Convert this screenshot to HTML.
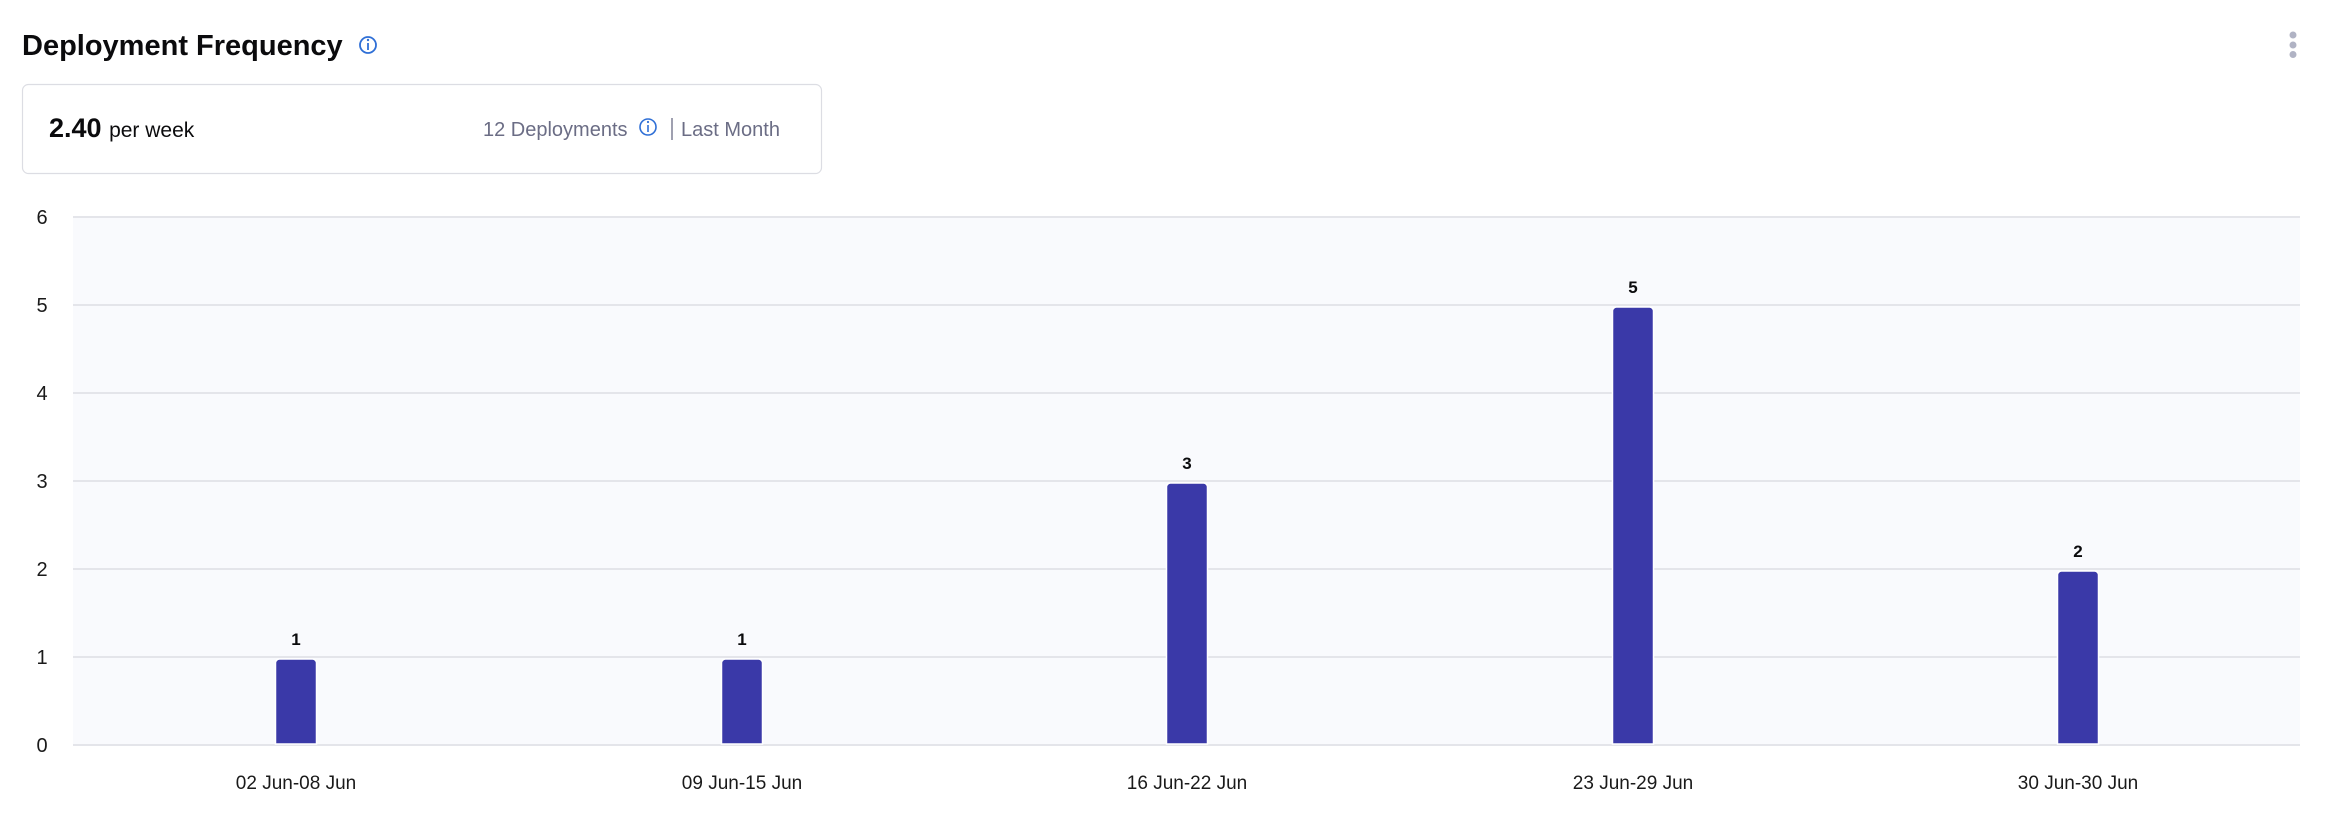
<!DOCTYPE html>
<html><head><meta charset="utf-8"><style>
html,body{margin:0;padding:0;background:#fff;width:2342px;height:832px;overflow:hidden;font-family:"Liberation Sans",Arial,sans-serif;}
</style></head><body>
<svg width="2342" height="832" viewBox="0 0 2342 832" xmlns="http://www.w3.org/2000/svg" font-family="Liberation Sans, Arial, sans-serif">
<text x="22" y="55" font-size="29" font-weight="bold" fill="#0b0b0d">Deployment Frequency</text>
<circle cx="368" cy="45" r="8" fill="none" stroke="#2f6fd6" stroke-width="1.8"/>
<line x1="368" y1="43" x2="368" y2="50" stroke="#2f6fd6" stroke-width="1.8"/>
<circle cx="368" cy="40" r="1.2" fill="#2f6fd6"/>
<circle cx="2293" cy="35" r="3.5" fill="#b0b3c4"/>
<circle cx="2293" cy="45" r="3.5" fill="#b0b3c4"/>
<circle cx="2293" cy="54.5" r="3.5" fill="#b0b3c4"/>
<rect x="22.5" y="84.5" width="799" height="89" rx="6" fill="#fff" stroke="#dcdde3" stroke-width="1.2"/>
<text x="49" y="137" font-size="27" font-weight="bold" fill="#0b0b0d">2.40 <tspan font-size="21" font-weight="normal">per week</tspan></text>
<text x="483" y="136" font-size="20" fill="#6b6d85">12 Deployments</text>
<circle cx="648" cy="127" r="8" fill="none" stroke="#2f6fd6" stroke-width="1.6"/>
<line x1="648" y1="125" x2="648" y2="132" stroke="#2f6fd6" stroke-width="1.6"/>
<circle cx="648" cy="122" r="1.1" fill="#2f6fd6"/>
<line x1="672" y1="118" x2="672" y2="140" stroke="#6b6d85" stroke-width="1.3"/>
<text x="681" y="136" font-size="20" fill="#6b6d85">Last Month</text>
<rect x="73" y="217" width="2227" height="528" fill="#f9fafd"/>
<g stroke="#e4e5ea" stroke-width="2">
<line x1="73" y1="217" x2="2300" y2="217"/><line x1="73" y1="305" x2="2300" y2="305"/>
<line x1="73" y1="393" x2="2300" y2="393"/><line x1="73" y1="481" x2="2300" y2="481"/>
<line x1="73" y1="569" x2="2300" y2="569"/><line x1="73" y1="657" x2="2300" y2="657"/>
<line x1="73" y1="745" x2="2300" y2="745"/>
</g>
<g font-size="20" fill="#1a1a1a" text-anchor="middle">
<text x="42" y="224">6</text><text x="42" y="312">5</text><text x="42" y="400">4</text>
<text x="42" y="488">3</text><text x="42" y="576">2</text><text x="42" y="664">1</text><text x="42" y="752">0</text>
</g>
<g fill="#3a39a8" stroke="#fff" stroke-width="1.5">
<path d="M275.5 744V663a4 4 0 0 1 4-4h33a4 4 0 0 1 4 4V744z"/>
<path d="M721.5 744V663a4 4 0 0 1 4-4h33a4 4 0 0 1 4 4V744z"/>
<path d="M1166.5 744V487a4 4 0 0 1 4-4h33a4 4 0 0 1 4 4V744z"/>
<path d="M1612.5 744V311a4 4 0 0 1 4-4h33a4 4 0 0 1 4 4V744z"/>
<path d="M2057.5 744V575a4 4 0 0 1 4-4h33a4 4 0 0 1 4 4V744z"/>
</g>
<g font-size="17" font-weight="bold" fill="#0b0b0d" text-anchor="middle">
<text x="296" y="645">1</text><text x="742" y="645">1</text><text x="1187" y="469">3</text>
<text x="1633" y="293">5</text><text x="2078" y="557">2</text>
</g>
<g font-size="19" fill="#1a1a1a" text-anchor="middle">
<text x="296" y="789">02 Jun-08 Jun</text><text x="742" y="789">09 Jun-15 Jun</text>
<text x="1187" y="789">16 Jun-22 Jun</text><text x="1633" y="789">23 Jun-29 Jun</text>
<text x="2078" y="789">30 Jun-30 Jun</text>
</g>
</svg>
</body></html>
